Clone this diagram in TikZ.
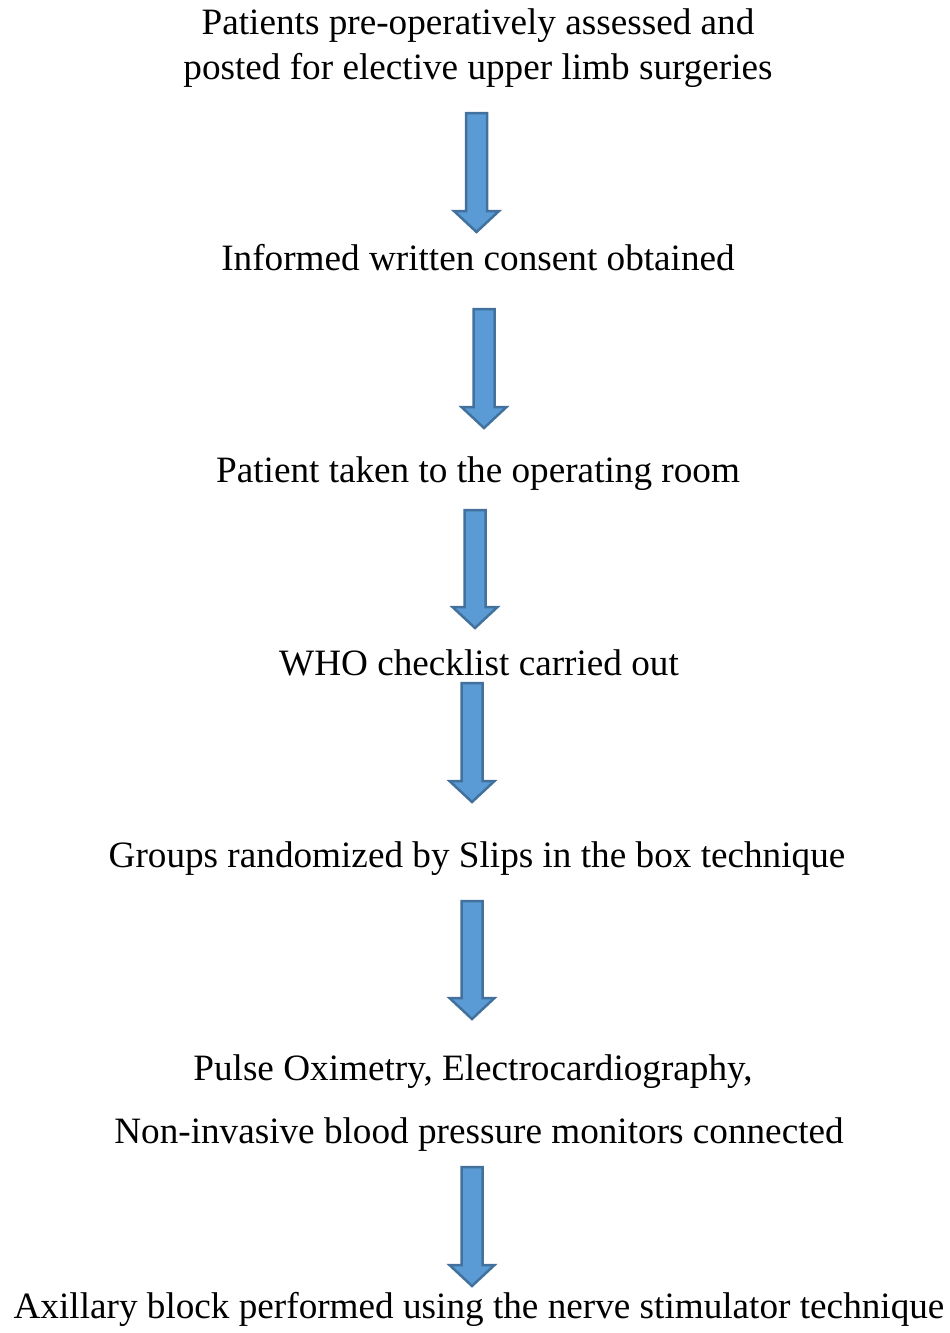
\documentclass[tikz,border=0pt]{standalone}
\usepackage{fontspec}
\setmainfont{Liberation Serif}
\usetikzlibrary{calc}
\definecolor{arrowfill}{HTML}{5B9BD5}
\definecolor{arrowline}{HTML}{41719C}

\begin{document}
\begin{tikzpicture}[x=0.5pt, y=-0.5pt,
    stepline/.style={anchor=base, inner sep=0pt, font=\fontsize{18.6}{22}\selectfont},
    blockarrow/.style={draw=arrowline, fill=arrowfill, line width=1.25pt, line join=miter,
        to path={($(\tikztostart)+(-10.5,0)$) -- ($(\tikztostart)+(10.5,0)$)
            -- ($(\tikztotarget)+(10.5,-21)$) -- ($(\tikztotarget)+(22.5,-21)$)
            -- (\tikztotarget) -- ($(\tikztotarget)+(-22.5,-21)$)
            -- ($(\tikztotarget)+(-10.5,-21)$) -- cycle \tikztonodes}}
]
\useasboundingbox (0,0) rectangle (949,1333);

% Steps of the protocol
\node[stepline] (assessA) at (478,34) {Patients pre-operatively assessed and};
\node[stepline] (assessB) at (478,79) {posted for elective upper limb surgeries};
\node[stepline] (consent) at (478,270) {Informed written consent obtained};
\node[stepline] (theatre) at (478,482) {Patient taken to the operating room};
\node[stepline] (who) at (479,675) {WHO checklist carried out};
\node[stepline] (random) at (477,867) {Groups randomized by Slips in the box technique};
\node[stepline] (monitorA) at (473,1080) {Pulse Oximetry, Electrocardiography,};
\node[stepline] (monitorB) at (479,1143) {Non-invasive blood pressure monitors connected};
\node[stepline] (block) at (479,1318) {Axillary block performed using the nerve stimulator technique};

% Arrow ends
\coordinate (a1s) at (476.5,113);  \coordinate (a1e) at (476.5,232);
\coordinate (a2s) at (484,309);    \coordinate (a2e) at (484,428);
\coordinate (a3s) at (475,510);    \coordinate (a3e) at (475,628);
\coordinate (a4s) at (472,683);    \coordinate (a4e) at (472,802);
\coordinate (a5s) at (472,901);    \coordinate (a5e) at (472,1019);
\coordinate (a6s) at (472,1167);   \coordinate (a6e) at (472,1286);

% Arrows
\draw[blockarrow] (a1s) to (a1e);
\draw[blockarrow] (a2s) to (a2e);
\draw[blockarrow] (a3s) to (a3e);
\draw[blockarrow] (a4s) to (a4e);
\draw[blockarrow] (a5s) to (a5e);
\draw[blockarrow] (a6s) to (a6e);

\end{tikzpicture}
\end{document}
